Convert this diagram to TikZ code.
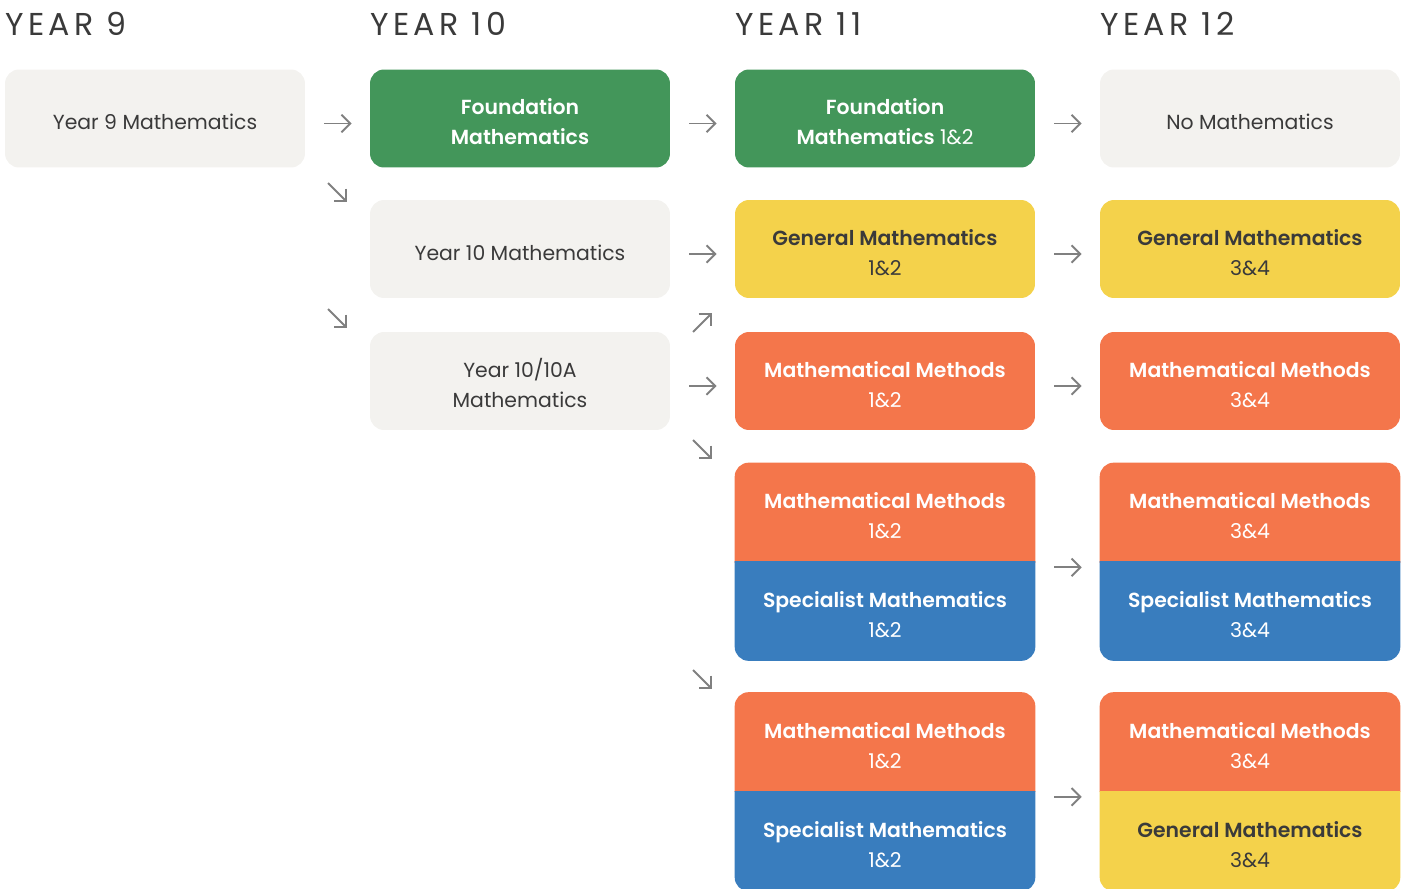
\documentclass[tikz,border=0pt]{standalone}
\usepackage{fontspec}
\setmainfont{Poppins}[BoldFont={Poppins SemiBold}]
\newfontfamily\headfont{Poppins}[LetterSpace=14]
\usetikzlibrary{arrows.meta,backgrounds}

\definecolor{boxgrey}{RGB}{243,242,239}
\definecolor{ink}{RGB}{58,58,58}
\definecolor{foundgreen}{RGB}{67,150,90}
\definecolor{genyellow}{RGB}{244,210,75}
\definecolor{methorange}{RGB}{244,118,75}
\definecolor{specblue}{RGB}{57,125,190}
\definecolor{arrowgrey}{RGB}{128,128,128}

% box text as a one-column tabular, a bit taller on top so it sits lower
\newcommand{\boxtext}[1]{\begin{tabular}{@{}c@{}}\rule{0pt}{18pt}#1\end{tabular}}
% subject name in bold, unit pair underneath
\newcommand{\subj}[2]{\boxtext{\textbf{#1}\\#2}}

\tikzset{
  box/.style={rounded corners=0.28cm, minimum width=6cm, minimum height=1.96cm,
    inner sep=0pt, font=\fontsize{11.6}{17}\selectfont},
  plainbox/.style={box, fill=boxgrey, text=ink},
  foundbox/.style={box, fill=foundgreen, text=white},
  genbox/.style={box, fill=genyellow, text=ink},
  methbox/.style={box, fill=methorange, text=white},
  half/.style={box, minimum height=1.98cm, text=white}, % filled on the background layer
  yearhead/.style={anchor=base west, inner sep=0pt, text=ink,
    font=\headfont\fontsize{18}{18}\selectfont},
  flow/.style={draw=arrowgrey, line width=1.1pt, -{Straight Barb[length=5pt,width=10pt]}},
  gap/.style={flow, shorten <=0.38cm, shorten >=0.36cm, transform canvas={yshift=-0.1cm}},
}

\begin{document}
\begin{tikzpicture}[x=0.02cm, y=-0.02cm]
\useasboundingbox (0,0) rectangle (1407,889);
\clip (0,0) rectangle (1407,889);

% column heads
\node[yearhead] (h9)  at (5,35)    {YEAR 9};
\node[yearhead] (h10) at (370,35)  {YEAR 10};
\node[yearhead] (h11) at (735,35)  {YEAR 11};
\node[yearhead] (h12) at (1100,35) {YEAR 12};

% year 9 and 10
\node[plainbox] (y9)   at (155,118.5) {\boxtext{Year 9 Mathematics}};
\node[foundbox] (f10)  at (520,118.5) {\boxtext{\textbf{Foundation}\\\textbf{Mathematics}}};
\node[plainbox] (y10)  at (520,249)   {\boxtext{Year 10 Mathematics}};
\node[plainbox] (y10a) at (520,381)   {\boxtext{Year 10/10A\\Mathematics}};

% year 11
\node[foundbox] (f12)   at (885,118.5) {\boxtext{\textbf{Foundation}\\\textbf{Mathematics} 1\&2}};
\node[genbox]   (g12)   at (885,249)   {\subj{General Mathematics}{1\&2}};
\node[methbox]  (m12)   at (885,381)   {\subj{Mathematical Methods}{1\&2}};
\node[half]     (mm12a) at (885,512.5) {\subj{Mathematical Methods}{1\&2}};
\node[half]     (sm12a) at (885,611)   {\subj{Specialist Mathematics}{1\&2}};
\node[half]     (mm12b) at (885,742)   {\subj{Mathematical Methods}{1\&2}};
\node[half]     (sm12b) at (885,841.5) {\subj{Specialist Mathematics}{1\&2}};

% year 12
\node[plainbox] (none)  at (1250,118.5) {\boxtext{No Mathematics}};
\node[genbox]   (g34)   at (1250,249)   {\subj{General Mathematics}{3\&4}};
\node[methbox]  (m34)   at (1250,381)   {\subj{Mathematical Methods}{3\&4}};
\node[half]     (mm34a) at (1250,512.5) {\subj{Mathematical Methods}{3\&4}};
\node[half]     (sm34a) at (1250,611)   {\subj{Specialist Mathematics}{3\&4}};
\node[half]     (mm34b) at (1250,742)   {\subj{Mathematical Methods}{3\&4}};
\node[half, text=ink] (gm34b) at (1250,841.5) {\subj{General Mathematics}{3\&4}};

% two-part boxes: each half is a rounded box clipped to its own half,
% so only the outer corners stay round
\begin{scope}[on background layer]
  \foreach \up/\low/\upcol/\lowcol in {mm12a/sm12a/methorange/specblue,
      mm12b/sm12b/methorange/specblue, mm34a/sm34a/methorange/specblue,
      mm34b/gm34b/methorange/genyellow} {
    \begin{scope}
      \clip (\up.north west) rectangle (\up.south east);
      \fill[\upcol, rounded corners=0.28cm] (\up.north west) rectangle ([yshift=-1cm]\up.south east);
    \end{scope}
    \begin{scope}
      \clip (\low.north west) rectangle (\low.south east);
      \fill[\lowcol, rounded corners=0.28cm] ([yshift=1cm]\low.north west) rectangle (\low.south east);
    \end{scope}
  }
\end{scope}

% straight steps
\draw[gap] (y9) -- (f10);
\draw[gap] (f10) -- (f12);
\draw[gap] (y10) -- (g12);
\draw[gap] (y10a) -- (m12);
\draw[gap] (f12) -- (none);
\draw[gap] (g12) -- (g34);
\draw[gap] (m12) -- (m34);
\draw[gap] (mm12a.south east) -- (mm34a.south west);
\draw[gap] (mm12b.south east) -- (mm34b.south west);

% slanted steps
\coordinate (s1a) at (328,183); \coordinate (s1b) at (347,202);
\coordinate (s2a) at (328,309); \coordinate (s2b) at (347,328);
\coordinate (s3a) at (693,332); \coordinate (s3b) at (712,313);
\coordinate (s4a) at (693,440); \coordinate (s4b) at (712,459);
\coordinate (s5a) at (693,670); \coordinate (s5b) at (712,689);
\foreach \n in {1,...,5}
  \draw[flow] (s\n a) -- (s\n b);
\end{tikzpicture}
\end{document}
